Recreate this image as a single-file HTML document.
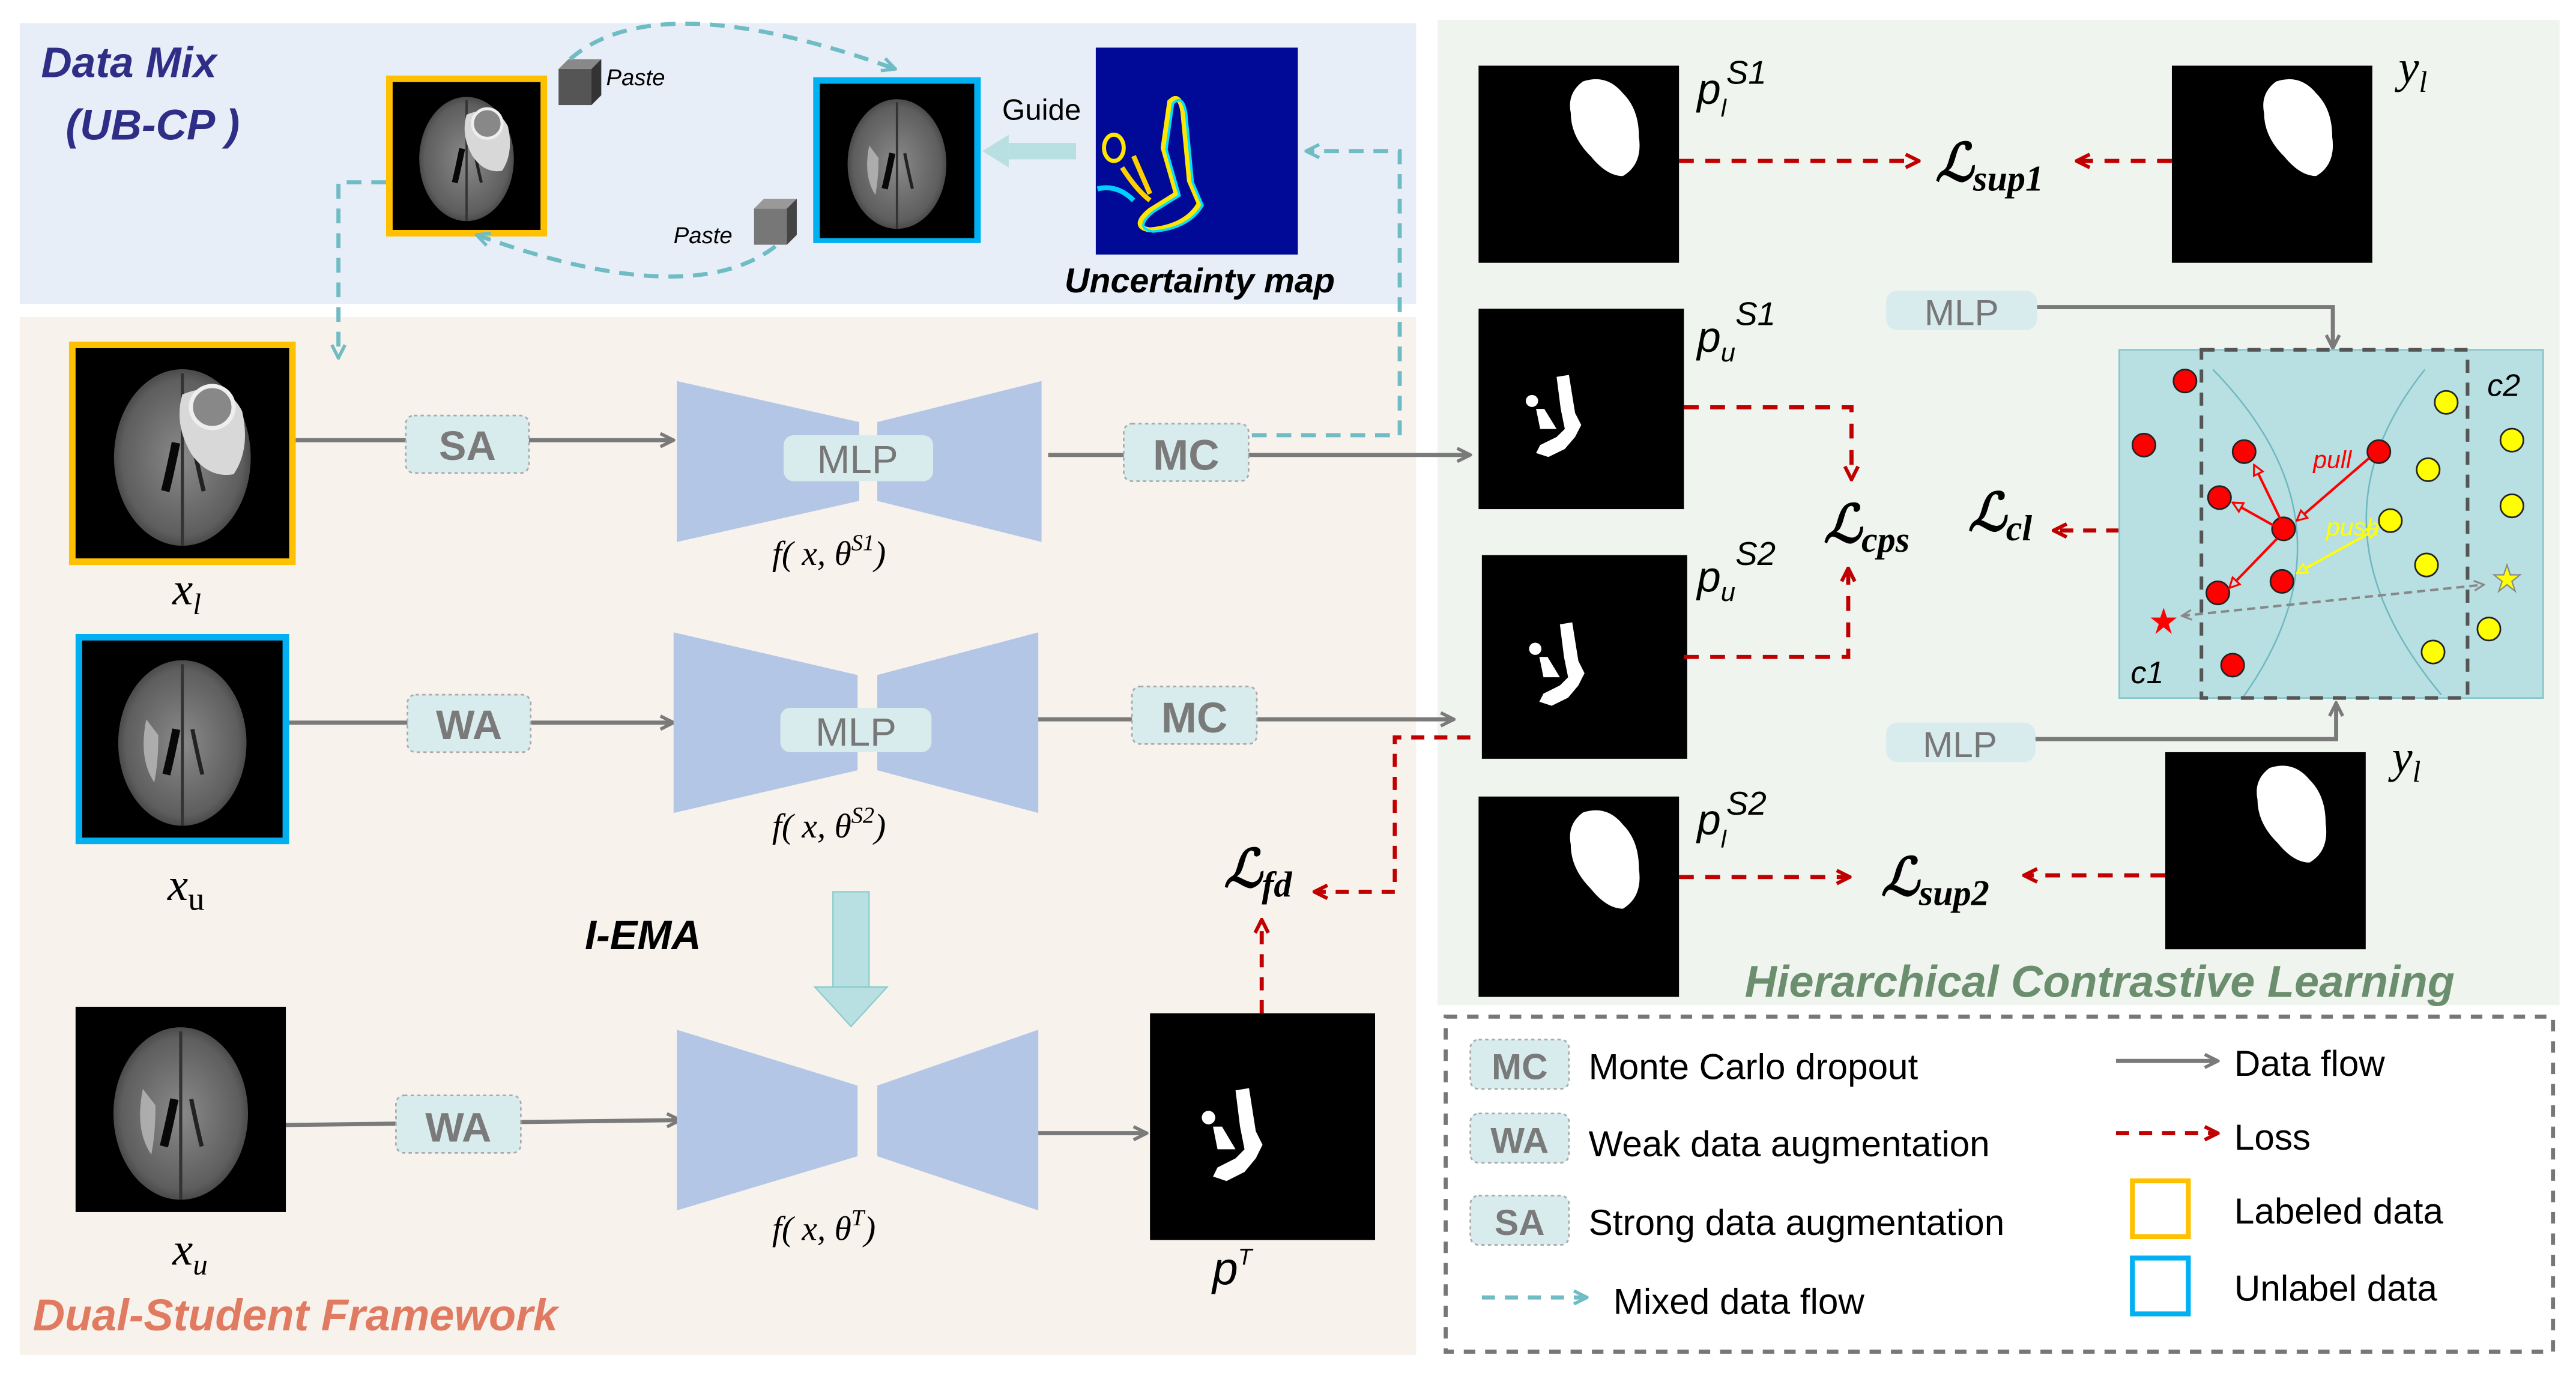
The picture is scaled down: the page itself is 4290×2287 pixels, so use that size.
<!DOCTYPE html>
<html><head><meta charset="utf-8"><style>
html,body{margin:0;padding:0;background:#fff;}
svg{display:block;}
text{font-family:"Liberation Sans",sans-serif;}
.m{font-family:"Liberation Serif","DejaVu Serif",serif;font-style:italic;}
</style></head><body>
<svg width="4290" height="2287" viewBox="0 0 1568 836" preserveAspectRatio="none" xmlns="http://www.w3.org/2000/svg">
<defs>
<radialGradient id="bg" cx="50%" cy="50%" r="55%"><stop offset="0" stop-color="#8a8a8a"/><stop offset="0.8" stop-color="#5e5e5e"/><stop offset="1" stop-color="#3a3a3a"/></radialGradient>
<g id="brain">
<rect x="0" y="0" width="100" height="100" fill="#000"/>
<ellipse cx="50" cy="52" rx="32" ry="42" fill="url(#bg)"/>
<path d="M50 12 L50 94" stroke="#333" stroke-width="1.5"/>
<path d="M47 45 Q44 60 42 68" stroke="#080808" stroke-width="4" fill="none"/>
<path d="M55 45 Q58 60 60 68" stroke="#222" stroke-width="2" fill="none"/>
</g>
<g id="brainU">
<use href="#brain"/>
<path d="M32 40 Q28 60 36 72 Q38 62 38 48 Z" fill="#bbb" opacity="0.8"/>
</g>
<g id="brainL">
<use href="#brain"/>
<path d="M50 22 Q70 14 78 30 Q82 48 74 60 Q62 62 54 50 Q46 36 50 22 Z" fill="#d8d8d8"/>
<circle cx="64" cy="28" r="10" fill="#888" stroke="#eee" stroke-width="2"/>
</g>
<g id="maskL">
<rect x="0" y="0" width="100" height="100" fill="#000"/>
<path d="M52 8 Q64 4 72 14 Q80 22 80 36 Q82 50 72 56 Q64 56 56 46 Q46 36 46 24 Q44 14 52 8 Z" fill="#fff"/>
</g>
<g id="maskU">
<rect x="0" y="0" width="100" height="100" fill="#000"/>
<path d="M38 34 L44 33 L47 52 L50 58 L47 64 L42 70 L34 74 L28 72 L30 68 L38 64 L42 60 L40 50 Z" fill="#fff"/>
<circle cx="26" cy="46" r="3" fill="#fff"/>
<path d="M28 50 L32 50 L38 60 L30 60 Z" fill="#fff"/>
</g>
<marker id="ag" viewBox="0 0 10 10" refX="9" refY="5" markerWidth="4" markerHeight="4" orient="auto"><path d="M1 1 L9 5 L1 9" fill="none" stroke="#7a7a7a" stroke-width="2"/></marker>
<marker id="ar" viewBox="0 0 10 10" refX="9" refY="5" markerWidth="4" markerHeight="4" orient="auto"><path d="M1 1 L9 5 L1 9" fill="none" stroke="#c00000" stroke-width="2.2"/></marker>
<marker id="at" viewBox="0 0 10 10" refX="9" refY="5" markerWidth="4" markerHeight="4" orient="auto"><path d="M1 1 L9 5 L1 9" fill="none" stroke="#6fbcc4" stroke-width="2"/></marker>
<marker id="arr" viewBox="0 0 10 10" refX="9" refY="5" markerWidth="5" markerHeight="5" orient="auto"><path d="M1 1 L9 5 L1 9 Z" fill="#b8dfe2" stroke="#f00" stroke-width="1.5"/></marker>
<marker id="ary" viewBox="0 0 10 10" refX="9" refY="5" markerWidth="5" markerHeight="5" orient="auto-start-reverse"><path d="M1 1 L9 5 L1 9 Z" fill="#b8dfe2" stroke="#ff0" stroke-width="1.5"/></marker>
<marker id="agg" viewBox="0 0 10 10" refX="9" refY="5" markerWidth="5" markerHeight="5" orient="auto-start-reverse"><path d="M1 1 L9 5 L1 9" fill="none" stroke="#888" stroke-width="1.5"/></marker>
</defs>

<rect x="12" y="14" width="850" height="171" fill="#e8eef8"/>
<rect x="12" y="193" width="850" height="632" fill="#f7f2ec"/>
<rect x="875" y="12" width="683" height="600" fill="#eff4ee"/>

<text x="25" y="47" font-size="26" font-weight="bold" font-style="italic" fill="#2e2e86">Data Mix</text>
<text x="40" y="85" font-size="26" font-weight="bold" font-style="italic" fill="#2e2e86">(UB-CP )</text>
<rect x="235" y="46" width="98" height="98" fill="#ffc000"/>
<use href="#brainL" transform="translate(239,50) scale(0.9)"/>
<rect x="495" y="47" width="102" height="101" fill="#00b0f0"/>
<use href="#brainU" transform="translate(499,51) scale(0.94)"/>
<rect x="667" y="29" width="123" height="126" fill="#000a96"/>
<path d="M712 62 Q718 56 720 68 L724 110 L730 124 Q722 138 700 140 Q688 138 700 128 L716 118 L708 90 Z" fill="none" stroke="#ffe600" stroke-width="3"/>
<path d="M712 62 Q718 56 720 68 L724 110 L730 124 Q722 138 700 140 Q688 138 700 128 L716 118 L708 90 Z" fill="none" stroke="#00e0ff" stroke-width="1.5" transform="translate(2,1)"/>
<ellipse cx="678" cy="90" rx="6" ry="8" fill="none" stroke="#ffe600" stroke-width="2.5"/>
<path d="M690 95 L700 118 M683 102 Q692 116 700 122" stroke="#ffd000" stroke-width="3" fill="none"/>
<path d="M668 115 Q680 112 690 122" stroke="#00d0ff" stroke-width="3" fill="none"/>
<path d="M655 92 L614 92" stroke="#b8dfe2" stroke-width="10"/>
<path d="M614 82 L598 92 L614 102 Z" fill="#b8dfe2"/>
<text x="610" y="73" font-size="18" fill="#000">Guide</text>
<text x="648" y="178" font-size="21" font-weight="bold" font-style="italic" fill="#000">Uncertainty map</text>
<rect x="340" y="42" width="20" height="22" fill="#555"/><path d="M340 42 L346 36 L366 36 L360 42 Z" fill="#888"/><path d="M360 42 L366 36 L366 58 L360 64 Z" fill="#333"/>
<text x="369" y="52" font-size="14" font-style="italic" fill="#000">Paste</text>
<rect x="459" y="127" width="20" height="22" fill="#777"/><path d="M459 127 L465 121 L485 121 L479 127 Z" fill="#999"/><path d="M479 127 L485 121 L485 143 L479 149 Z" fill="#444"/>
<text x="410" y="148" font-size="14" font-style="italic" fill="#000">Paste</text>
<path d="M347 36 Q400 -10 545 42" fill="none" stroke="#6fbcc4" stroke-width="2.5" stroke-dasharray="9,6" marker-end="url(#at)"/>
<path d="M472 150 Q420 190 290 143" fill="none" stroke="#6fbcc4" stroke-width="2.5" stroke-dasharray="9,6" marker-end="url(#at)"/>
<path d="M235 111 L206 111 L206 218" fill="none" stroke="#6fbcc4" stroke-width="2.5" stroke-dasharray="9,6" marker-end="url(#at)"/>
<path d="M762 265 L852 265 L852 92 L795 92" fill="none" stroke="#6fbcc4" stroke-width="2.5" stroke-dasharray="9,6" marker-end="url(#at)"/>

<rect x="42" y="208" width="138" height="136" fill="#ffc000"/>
<use href="#brainL" transform="translate(46,212) scale(1.3,1.28)"/>
<text x="105" y="368" class="m" font-size="28">x<tspan font-size="18" dy="6">l</tspan></text>
<path d="M180 268 L410 268" stroke="#7a7a7a" stroke-width="2.5" marker-end="url(#ag)"/>
<rect x="247" y="253" width="75" height="35" rx="5" fill="#d8ecee" stroke="#aaa" stroke-dasharray="2,2"/>
<text x="284.5" y="280" font-size="25" font-weight="bold" fill="#7a7a7a" text-anchor="middle">SA</text>
<path d="M412 232 L523 257 L523 305 L412 330 Z" fill="#b4c6e6"/>
<path d="M634 232 L534 257 L534 305 L634 330 Z" fill="#b4c6e6"/>
<rect x="477" y="265" width="91" height="28" rx="6" fill="#d8ecee"/>
<text x="522" y="288" font-size="24" fill="#777" text-anchor="middle">MLP</text>
<text x="470" y="344" class="m" font-size="21">f( x, θ<tspan font-size="14" dy="-9">S1</tspan><tspan dy="9">)</tspan></text>
<path d="M638 277 L895 277" stroke="#7a7a7a" stroke-width="2.5" marker-end="url(#ag)"/>
<rect x="684" y="258" width="76" height="35" rx="5" fill="#d8ecee" stroke="#aaa" stroke-dasharray="2,2"/>
<text x="722" y="286" font-size="26" font-weight="bold" fill="#7a7a7a" text-anchor="middle">MC</text>

<rect x="46" y="386" width="130" height="128" fill="#00b0f0"/>
<use href="#brainU" transform="translate(50,390) scale(1.22,1.2)"/>
<text x="102" y="548" class="m" font-size="28">x<tspan font-size="20" dy="6" font-style="normal">u</tspan></text>
<path d="M176 440 L410 440" stroke="#7a7a7a" stroke-width="2.5" marker-end="url(#ag)"/>
<rect x="248" y="423" width="75" height="35" rx="5" fill="#d8ecee" stroke="#aaa" stroke-dasharray="2,2"/>
<text x="285.5" y="450" font-size="25" font-weight="bold" fill="#7a7a7a" text-anchor="middle">WA</text>
<path d="M410 385 L522 411 L522 469 L410 495 Z" fill="#b4c6e6"/>
<path d="M632 385 L534 411 L534 469 L632 495 Z" fill="#b4c6e6"/>
<rect x="475" y="431" width="92" height="27" rx="6" fill="#d8ecee"/>
<text x="521" y="454" font-size="24" fill="#777" text-anchor="middle">MLP</text>
<text x="470" y="510" class="m" font-size="21">f( x, θ<tspan font-size="14" dy="-9">S2</tspan><tspan dy="9">)</tspan></text>
<path d="M632 438 L885 438" stroke="#7a7a7a" stroke-width="2.5" marker-end="url(#ag)"/>
<rect x="689" y="418" width="76" height="35" rx="5" fill="#d8ecee" stroke="#aaa" stroke-dasharray="2,2"/>
<text x="727" y="446" font-size="26" font-weight="bold" fill="#7a7a7a" text-anchor="middle">MC</text>

<rect x="507" y="543" width="22" height="60" fill="#b8dfe2" stroke="#8cc" stroke-width="0.8"/>
<path d="M496 601 L540 601 L518 625 Z" fill="#b8dfe2" stroke="#8cc" stroke-width="0.8"/>
<text x="356" y="578" font-size="25" font-weight="bold" font-style="italic" fill="#000">I-EMA</text>

<use href="#brainU" transform="translate(46,613) scale(1.28,1.25)"/>
<text x="105" y="770" class="m" font-size="28">x<tspan font-size="18" dy="6">u</tspan></text>
<path d="M174 685 L414 682" stroke="#7a7a7a" stroke-width="2.5" marker-end="url(#ag)"/>
<rect x="241" y="667" width="76" height="35" rx="5" fill="#d8ecee" stroke="#aaa" stroke-dasharray="2,2"/>
<text x="279" y="695" font-size="25" font-weight="bold" fill="#7a7a7a" text-anchor="middle">WA</text>
<path d="M412 627 L522 661 L522 704 L412 737 Z" fill="#b4c6e6"/>
<path d="M632 627 L534 661 L534 704 L632 737 Z" fill="#b4c6e6"/>
<text x="470" y="755" class="m" font-size="21">f( x, θ<tspan font-size="14" dy="-9">T</tspan><tspan dy="9">)</tspan></text>
<path d="M632 690 L698 690" stroke="#7a7a7a" stroke-width="2.5" marker-end="url(#ag)"/>
<use href="#maskU" transform="translate(700,617) scale(1.37,1.38)"/>
<text x="738" y="782" font-size="28" font-style="italic">p<tspan font-size="14" dy="-12">T</tspan></text>
<path d="M768 617 L768 560" stroke="#c00000" stroke-width="2.5" stroke-dasharray="8,6" marker-end="url(#ar)"/>
<path d="M895 449 L849 449 L849 543 L800 543" fill="none" stroke="#c00000" stroke-width="2.5" stroke-dasharray="8,6" marker-end="url(#ar)"/>
<text x="745" y="540" class="m" font-size="32" font-weight="bold">ℒ<tspan font-size="22" dy="6">fd</tspan></text>
<text x="20" y="810" font-size="27" font-weight="bold" font-style="italic" fill="#e07a60">Dual-Student Framework</text>

<use href="#maskL" transform="translate(900,40) scale(1.22,1.2)"/>
<text x="1033" y="63" font-size="26" font-style="italic">p<tspan font-size="15" dy="8">l</tspan><tspan font-size="20" dy="-20">S1</tspan></text>
<path d="M1022 98 L1168 98" stroke="#c00000" stroke-width="2.5" stroke-dasharray="9,7" marker-end="url(#ar)"/>
<text x="1178" y="110" class="m" font-size="32" font-weight="bold">ℒ<tspan font-size="22" dy="6">sup1</tspan></text>
<use href="#maskL" transform="translate(1322,40) scale(1.22,1.2)"/>
<path d="M1322 98 L1264 98" stroke="#c00000" stroke-width="2.5" stroke-dasharray="9,7" marker-end="url(#ar)"/>
<text x="1460" y="50" class="m" font-size="28">y<tspan font-size="18" dy="6">l</tspan></text>

<rect x="1148" y="177" width="92" height="24" rx="7" fill="#d8ecee"/>
<text x="1194" y="198" font-size="22" fill="#777" text-anchor="middle">MLP</text>
<path d="M1240 187 L1420 187 L1420 212" fill="none" stroke="#7a7a7a" stroke-width="2.5" marker-end="url(#ag)"/>

<use href="#maskU" transform="translate(900,188) scale(1.25,1.22)"/>
<text x="1033" y="214" font-size="26" font-style="italic">p<tspan font-size="16" dy="6">u</tspan><tspan font-size="20" dy="-22">S1</tspan></text>
<path d="M1025 248 L1127 248 L1127 292" fill="none" stroke="#c00000" stroke-width="2.5" stroke-dasharray="9,7" marker-end="url(#ar)"/>
<use href="#maskU" transform="translate(902,338) scale(1.25,1.24)"/>
<text x="1033" y="360" font-size="26" font-style="italic">p<tspan font-size="16" dy="6">u</tspan><tspan font-size="20" dy="-22">S2</tspan></text>
<path d="M1025 400 L1125 400 L1125 346" fill="none" stroke="#c00000" stroke-width="2.5" stroke-dasharray="9,7" marker-end="url(#ar)"/>
<text x="1110" y="330" class="m" font-size="32" font-weight="bold">ℒ<tspan font-size="22" dy="6">cps</tspan></text>
<text x="1198" y="323" class="m" font-size="32" font-weight="bold">ℒ<tspan font-size="22" dy="6">cl</tspan></text>
<path d="M1290 323 L1250 323" stroke="#c00000" stroke-width="2.5" stroke-dasharray="8,6" marker-end="url(#ar)"/>

<rect x="1290" y="213" width="258" height="212" fill="#b8dfe2" stroke="#88c6cc" stroke-width="1"/>
<path d="M1347 225 Q1440 320 1365 425" fill="none" stroke="#6fb8c0" stroke-width="0.9"/>
<path d="M1476 225 Q1400 320 1486 423" fill="none" stroke="#6fb8c0" stroke-width="0.9"/>
<rect x="1340" y="213" width="162" height="212" fill="none" stroke="#555" stroke-width="2.2" stroke-dasharray="8,6"/>
<g stroke="#222" stroke-width="1">
<circle cx="1330" cy="232" r="7" fill="#f00"/><circle cx="1305" cy="271" r="7" fill="#f00"/><circle cx="1366" cy="275" r="7" fill="#f00"/><circle cx="1351" cy="303" r="7" fill="#f00"/><circle cx="1390" cy="322" r="7" fill="#f00"/><circle cx="1350" cy="361" r="7" fill="#f00"/><circle cx="1389" cy="354" r="7" fill="#f00"/><circle cx="1448" cy="275" r="7" fill="#f00"/><circle cx="1359" cy="405" r="7" fill="#f00"/>
<circle cx="1489" cy="245" r="7" fill="#ff0"/><circle cx="1529" cy="268" r="7" fill="#ff0"/><circle cx="1478" cy="286" r="7" fill="#ff0"/><circle cx="1529" cy="308" r="7" fill="#ff0"/><circle cx="1455" cy="317" r="7" fill="#ff0"/><circle cx="1477" cy="344" r="7" fill="#ff0"/><circle cx="1515" cy="383" r="7" fill="#ff0"/><circle cx="1481" cy="397" r="7" fill="#ff0"/>
</g>
<path d="M1388 316 L1372 283" stroke="#f00" stroke-width="1.5" marker-end="url(#arr)"/>
<path d="M1384 320 L1359 306" stroke="#f00" stroke-width="1.5" marker-end="url(#arr)"/>
<path d="M1386 328 L1357 358" stroke="#f00" stroke-width="1.5" marker-end="url(#arr)"/>
<path d="M1442 279 L1398 317" stroke="#f00" stroke-width="1.5" marker-end="url(#arr)"/>
<path d="M1398 349 L1447 322" stroke="#ff0" stroke-width="1.5" marker-start="url(#ary)" marker-end="url(#ary)"/>
<path d="M1328 375 L1512 356" stroke="#888" stroke-width="1.5" stroke-dasharray="5,3" marker-start="url(#agg)" marker-end="url(#agg)"/>
<text x="1408" y="285" font-size="15" font-style="italic" fill="#f00">pull</text>
<text x="1416" y="326" font-size="15" font-style="italic" fill="#ff0">push</text>
<path d="M1317 370 L1319 376 L1325 376 L1320 380 L1322 386 L1317 382 L1312 386 L1314 380 L1309 376 L1315 376 Z" fill="#f00"/>
<path d="M1526 344 L1528 350 L1534 350 L1529 354 L1531 360 L1526 356 L1521 360 L1523 354 L1518 350 L1524 350 Z" fill="#ff0" stroke="#888" stroke-width="0.8"/>
<text x="1297" y="416" font-size="19" font-style="italic">c1</text>
<text x="1514" y="241" font-size="19" font-style="italic">c2</text>

<rect x="1148" y="440" width="91" height="24" rx="7" fill="#d8ecee"/>
<text x="1193" y="461" font-size="22" fill="#777" text-anchor="middle">MLP</text>
<path d="M1239 450 L1422 450 L1422 428" fill="none" stroke="#7a7a7a" stroke-width="2.5" marker-end="url(#ag)"/>
<use href="#maskL" transform="translate(1318,458) scale(1.22,1.2)"/>
<text x="1456" y="470" class="m" font-size="28">y<tspan font-size="18" dy="6">l</tspan></text>
<use href="#maskL" transform="translate(900,485) scale(1.22,1.22)"/>
<text x="1033" y="508" font-size="26" font-style="italic">p<tspan font-size="15" dy="8">l</tspan><tspan font-size="20" dy="-20">S2</tspan></text>
<path d="M1022 534 L1126 534" stroke="#c00000" stroke-width="2.5" stroke-dasharray="9,7" marker-end="url(#ar)"/>
<path d="M1318 533 L1232 533" stroke="#c00000" stroke-width="2.5" stroke-dasharray="9,7" marker-end="url(#ar)"/>
<text x="1145" y="545" class="m" font-size="32" font-weight="bold">ℒ<tspan font-size="22" dy="6">sup2</tspan></text>
<text x="1062" y="607" font-size="27" font-weight="bold" font-style="italic" fill="#6b8f6e">Hierarchical Contrastive Learning</text>

<rect x="880" y="619" width="674" height="204" fill="none" stroke="#777" stroke-width="2.5" stroke-dasharray="7,6"/>
<rect x="895" y="633" width="60" height="30" rx="5" fill="#d8ecee" stroke="#aaa" stroke-dasharray="2,2"/>
<text x="925" y="657" font-size="22" font-weight="bold" fill="#7a7a7a" text-anchor="middle">MC</text>
<text x="967" y="657" font-size="22">Monte Carlo dropout</text>
<rect x="895" y="678" width="60" height="30" rx="5" fill="#d8ecee" stroke="#aaa" stroke-dasharray="2,2"/>
<text x="925" y="702" font-size="22" font-weight="bold" fill="#7a7a7a" text-anchor="middle">WA</text>
<text x="967" y="704" font-size="22">Weak data augmentation</text>
<rect x="895" y="728" width="60" height="30" rx="5" fill="#d8ecee" stroke="#aaa" stroke-dasharray="2,2"/>
<text x="925" y="752" font-size="22" font-weight="bold" fill="#7a7a7a" text-anchor="middle">SA</text>
<text x="967" y="752" font-size="22">Strong data augmentation</text>
<path d="M902 790 L966 790" stroke="#6fbcc4" stroke-width="2.5" stroke-dasharray="8,6" marker-end="url(#at)"/>
<text x="982" y="800" font-size="22">Mixed data flow</text>
<path d="M1288 646 L1350 646" stroke="#7a7a7a" stroke-width="2.5" marker-end="url(#ag)"/>
<text x="1360" y="655" font-size="22">Data flow</text>
<path d="M1288 690 L1350 690" stroke="#c00000" stroke-width="2.5" stroke-dasharray="8,6" marker-end="url(#ar)"/>
<text x="1360" y="700" font-size="22">Loss</text>
<rect x="1298" y="719" width="34" height="34" fill="none" stroke="#ffc000" stroke-width="3"/>
<text x="1360" y="745" font-size="22">Labeled data</text>
<rect x="1298" y="766" width="34" height="34" fill="none" stroke="#00b0f0" stroke-width="3"/>
<text x="1360" y="792" font-size="22">Unlabel data</text>
</svg>
</body></html>
